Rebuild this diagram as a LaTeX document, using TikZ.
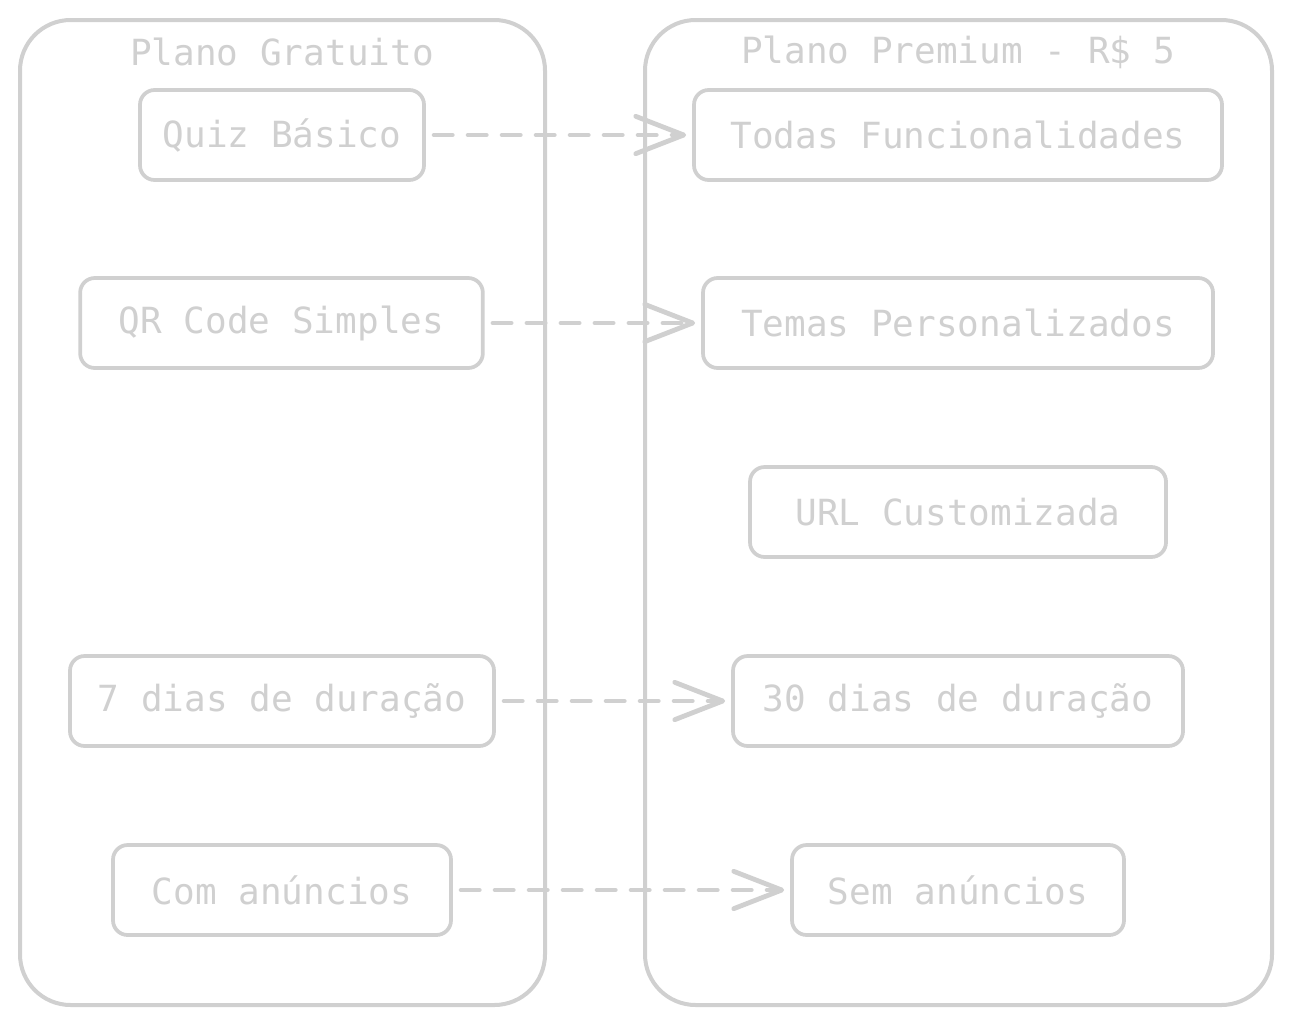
\documentclass[tikz,border=0pt]{standalone}
\usepackage{fontspec}
\setmonofont{DejaVu Sans Mono}
\usetikzlibrary{arrows.meta}
\definecolor{sk}{HTML}{D0D0D0}
\begin{document}
\begin{tikzpicture}[x=0.75pt,y=-0.75pt,
  container/.style={draw=sk,line width=3pt,rounded corners=38pt,inner sep=0pt},
  feat/.style={draw=sk,line width=2.8pt,rounded corners=11pt,inner sep=0pt,
    text=sk,font=\ttfamily\fontsize{27}{30}\selectfont,minimum height=67.5pt},
  ttl/.style={text=sk,font=\ttfamily\fontsize{27}{30}\selectfont,inner sep=0pt},
  link/.style={draw=sk,line width=3.2pt,line cap=round,dash pattern=on 14pt off 11.5pt,
    shorten <=6pt,shorten >=4.5pt,
    -{Straight Barb[length=36pt,width=28pt,line width=3.6pt,line cap=round,line join=round]}}]
\useasboundingbox (0,0) rectangle (1291,1025);
\fill[white] (0,0) rectangle (1291,1025);
% containers
\node[container,minimum width=393.75pt,minimum height=738.75pt] (free) at (282.5,512.5) {};
\node[container,minimum width=470.25pt,minimum height=738.75pt] (prem) at (958.5,512.5) {};
% titles
\node[ttl] (tfree) at (282,52) {Plano Gratuito};
\node[ttl] (tprem) at (958,52) {Plano Premium - R\$ 5};
% left features
\node[feat,minimum width=213pt] (quiz) at (282,135) {Quiz Básico};
\node[feat,minimum width=302pt] (qr) at (281.5,323) {QR Code Simples};
\node[feat,minimum width=318pt] (sete) at (282,701) {7 dias de duração};
\node[feat,minimum width=253.5pt] (com) at (282,890) {Com anúncios};
% right features
\node[feat,minimum width=396pt] (todas) at (958,135) {Todas Funcionalidades};
\node[feat,minimum width=382.5pt] (temas) at (958,323) {Temas Personalizados};
\node[feat,minimum width=312pt] (url) at (958,512) {URL Customizada};
\node[feat,minimum width=337.5pt] (trinta) at (958,701) {30 dias de duração};
\node[feat,minimum width=249pt] (sem) at (958,890) {Sem anúncios};
% links
\draw[link] (quiz.east) -- (todas.west);
\draw[link] (qr.east) -- (temas.west);
\draw[link] (sete.east) -- (trinta.west);
\draw[link] (com.east) -- (sem.west);
\end{tikzpicture}
\end{document}
